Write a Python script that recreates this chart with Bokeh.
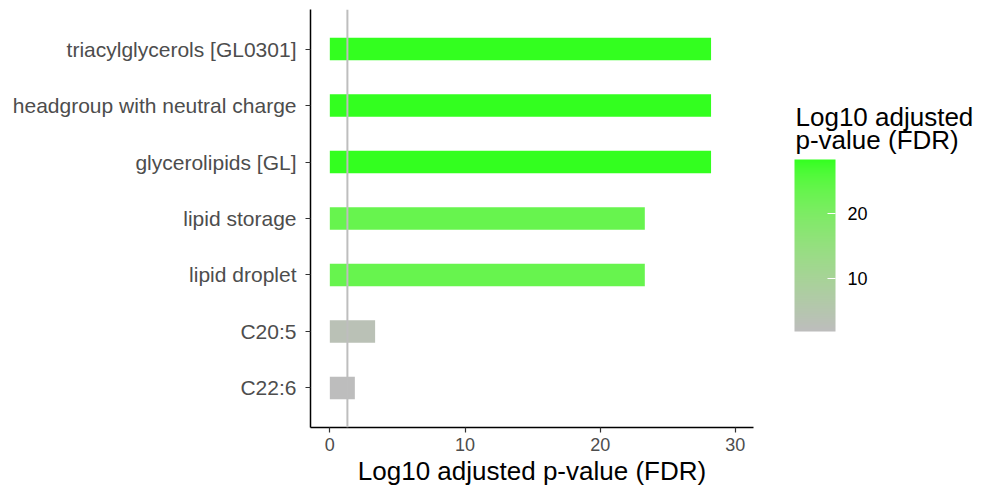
import numpy as np
from bokeh.plotting import figure
from bokeh.layouts import row
from bokeh.models import (ColumnDataSource, LinearColorMapper, ColorBar, FixedTicker,
                          Span, FactorRange, Range1d, Label)
from bokeh.embed import file_html
from bokeh.resources import INLINE

# ---- data ----
terms = ["triacylglycerols [GL0301]", "headgroup with neutral charge", "glycerolipids [GL]",
         "lipid storage", "lipid droplet", "C20:5", "C22:6"]
log10_fdr = [28.2, 28.2, 28.2, 23.3, 23.3, 3.35, 1.85]
threshold = 1.3
x_ticks = [0, 10, 20, 30]
legend_ticks = [10, 20]
legend_title = ["Log10 adjusted", "p-value (FDR)"]
low_color = "#BDBDBD"
high_color = "#33FF1F"

# ---- Lab interpolation for the gradient (like ggplot) ----
def hex2rgb(h):
    h = h.lstrip("#")
    return np.array([int(h[i:i + 2], 16) for i in (0, 2, 4)]) / 255.0

def rgb2lab(c):
    c = np.where(c > 0.04045, ((c + 0.055) / 1.055) ** 2.4, c / 12.92)
    M = np.array([[0.4124, 0.3576, 0.1805], [0.2126, 0.7152, 0.0722], [0.0193, 0.1192, 0.9505]])
    xyz = M @ c / np.array([0.95047, 1.0, 1.08883])
    f = np.where(xyz > 0.008856, np.cbrt(xyz), 7.787 * xyz + 16 / 116)
    return np.array([116 * f[1] - 16, 500 * (f[0] - f[1]), 200 * (f[1] - f[2])])

def lab2hex(lab):
    L, a, b = lab
    fy = (L + 16) / 116
    fx = fy + a / 500
    fz = fy - b / 200
    f = np.array([fx, fy, fz])
    xyz = np.where(f ** 3 > 0.008856, f ** 3, (f - 16 / 116) / 7.787) * np.array([0.95047, 1.0, 1.08883])
    Minv = np.array([[3.2406, -1.5372, -0.4986], [-0.9689, 1.8758, 0.0415], [0.0557, -0.2040, 1.0570]])
    c = Minv @ xyz
    c = np.where(c > 0.0031308, 1.055 * np.clip(c, 0, None) ** (1 / 2.4) - 0.055, 12.92 * c)
    c = np.clip(c, 0, 1)
    return "#%02x%02x%02x" % tuple(int(round(v * 255)) for v in c)

la, lb = rgb2lab(hex2rgb(low_color)), rgb2lab(hex2rgb(high_color))
palette = [lab2hex(la + (lb - la) * t) for t in np.linspace(0, 1, 256)]

mapper = LinearColorMapper(palette=palette, low=min(log10_fdr), high=max(log10_fdr))

source = ColumnDataSource(dict(term=terms, value=log10_fdr))

p = figure(y_range=FactorRange(factors=list(reversed(terms)), range_padding=0.2,
                               range_padding_units="absolute"),
           x_range=Range1d(-1.43, 31.34),
           frame_width=443, frame_height=418,
           min_border_left=310, min_border_top=9, min_border_bottom=55, min_border_right=30,
           output_backend="svg", toolbar_location=None)

p.hbar(y="term", left=0, right="value", height=0.4, source=source,
       fill_color={"field": "value", "transform": mapper}, line_color=None)

p.add_layout(Span(location=threshold, dimension="height", line_color="#BEBEBE", line_width=2))

p.outline_line_color = None
p.grid.grid_line_color = None
p.background_fill_color = "white"

for ax in (p.xaxis, p.yaxis):
    ax.axis_line_color = "black"
    ax.axis_line_width = 1.5
    ax.major_tick_line_color = "#333333"
    ax.major_tick_line_width = 1.2
    ax.major_tick_out = 5
    ax.major_tick_in = 0
    ax.minor_tick_line_color = None
    ax.major_label_text_font = "Liberation Sans"
    ax.major_label_text_color = "#4D4D4D"

p.yaxis.major_label_text_font_size = "21px"
p.xaxis.major_label_text_font_size = "18px"
p.xaxis.ticker = FixedTicker(ticks=x_ticks)
p.xaxis.major_label_standoff = 5
p.xaxis.axis_label = "Log10 adjusted p-value (FDR)"
p.xaxis.axis_label_text_font = "Liberation Sans"
p.xaxis.axis_label_text_font_size = "26px"
p.xaxis.axis_label_text_font_style = "normal"
p.xaxis.axis_label_text_color = "black"
p.xaxis.axis_label_standoff = 2
p.yaxis.major_label_standoff = 9

# ---- legend panel ----
lg = figure(frame_width=200, frame_height=482, min_border=0,
            x_range=Range1d(0, 1), y_range=Range1d(0, 1),
            output_backend="svg", toolbar_location=None)
lg.axis.visible = False
lg.grid.grid_line_color = None
lg.outline_line_color = None

cb = ColorBar(color_mapper=mapper, ticker=FixedTicker(ticks=legend_ticks),
              location=(11, 160), orientation="vertical", width=41, height=172,
              major_label_text_font="Liberation Sans", major_label_text_font_size="18px",
              major_label_text_color="black", label_standoff=12,
              major_tick_line_color="white", major_tick_in=8, major_tick_out=0,
              bar_line_color=None, border_line_color=None, background_fill_color=None,
              margin=0, padding=0)
lg.add_layout(cb, "center")

for i, line in enumerate(legend_title):
    lg.add_layout(Label(x=12, y=375 - 23 * i, x_units="screen", y_units="screen", text=line,
                        text_font="Liberation Sans", text_font_size="26px",
                        text_color="black", text_baseline="alphabetic", text_align="left"))

layout = row(p, lg, spacing=0)
open("out.html", "w").write(file_html(layout, INLINE))
